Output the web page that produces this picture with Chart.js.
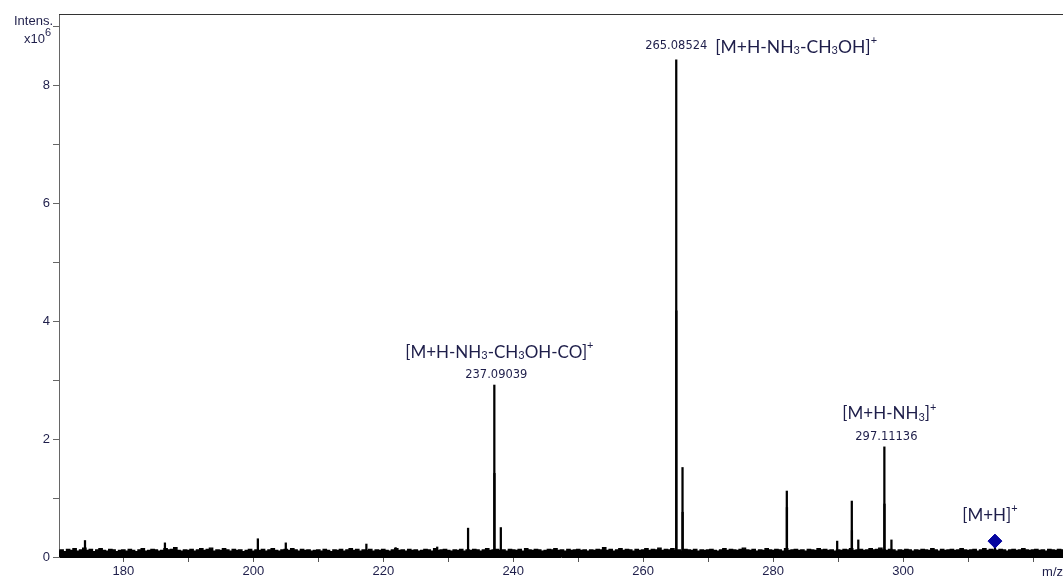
<!DOCTYPE html>
<html>
<head>
<meta charset="utf-8">
<script src="https://cdn.jsdelivr.net/npm/chart.js@4"></script>
<style>
body { margin: 0; background: #fff; }
#wrap { width: 1063px; height: 578px; position: relative; }
</style>
</head>
<body>
<div id="wrap"><canvas id="spectrum"></canvas></div>
<script>
// axis ticks
const x_ticks = [180, 190, 200, 210, 220, 230, 240, 250, 260, 270, 280, 290, 300, 310, 320];
const y_ticks = [0, 1, 2, 3, 4, 5, 6, 7, 8, 9];

// baseline noise, read every 0.5 m/z from 170 (intensity x10^6)
const noise_start = 170;
const noise_step = 0.5;
const noise_values = [
    0.10, 0.12, 0.09, 0.13, 0.11, 0.14, 0.10, 0.12, 0.15, 0.11, 0.13, 0.09, 0.12, 0.14, 0.11, 0.10, 0.13, 0.12, 0.09, 0.11,
    0.12, 0.10, 0.13, 0.11, 0.09, 0.12, 0.14, 0.10, 0.11, 0.13, 0.12, 0.10, 0.11, 0.14, 0.12, 0.13, 0.16, 0.11, 0.10, 0.12,
    0.11, 0.13, 0.10, 0.12, 0.14, 0.11, 0.13, 0.15, 0.10, 0.12, 0.11, 0.14, 0.12, 0.10, 0.13, 0.11, 0.12, 0.09, 0.11, 0.13,
    0.10, 0.12, 0.11, 0.13, 0.10, 0.12, 0.14, 0.11, 0.10, 0.12, 0.13, 0.11, 0.14, 0.12, 0.10, 0.13, 0.11, 0.12, 0.10, 0.11,
    0.12, 0.10, 0.13, 0.11, 0.09, 0.12, 0.11, 0.13, 0.10, 0.12, 0.14, 0.11, 0.13, 0.10, 0.12, 0.11, 0.13, 0.10, 0.12, 0.11,
    0.13, 0.11, 0.10, 0.12, 0.14, 0.11, 0.12, 0.10, 0.13, 0.11, 0.12, 0.10, 0.11, 0.13, 0.12, 0.10, 0.14, 0.11, 0.12, 0.13,
    0.11, 0.10, 0.12, 0.11, 0.13, 0.10, 0.12, 0.11, 0.13, 0.12, 0.10, 0.12, 0.14, 0.11, 0.12, 0.13, 0.11, 0.12, 0.10, 0.13,
    0.12, 0.11, 0.13, 0.10, 0.14, 0.12, 0.11, 0.13, 0.12, 0.10, 0.11, 0.13, 0.12, 0.14, 0.11, 0.12, 0.10, 0.13, 0.11, 0.12,
    0.13, 0.11, 0.12, 0.10, 0.12, 0.11, 0.13, 0.12, 0.16, 0.11, 0.13, 0.10, 0.12, 0.14, 0.11, 0.13, 0.12, 0.10, 0.13, 0.11,
    0.12, 0.14, 0.11, 0.13, 0.12, 0.15, 0.11, 0.13, 0.12, 0.14, 0.11, 0.12, 0.10, 0.13, 0.12, 0.11, 0.13, 0.10, 0.12, 0.11,
    0.12, 0.13, 0.11, 0.10, 0.12, 0.14, 0.11, 0.13, 0.12, 0.11, 0.13, 0.15, 0.12, 0.11, 0.13, 0.10, 0.12, 0.11, 0.14, 0.12,
    0.11, 0.13, 0.12, 0.10, 0.14, 0.11, 0.12, 0.13, 0.11, 0.12, 0.10, 0.13, 0.12, 0.11, 0.14, 0.12, 0.13, 0.11, 0.12, 0.10,
    0.12, 0.11, 0.13, 0.12, 0.14, 0.11, 0.12, 0.13, 0.11, 0.12, 0.14, 0.12, 0.13, 0.15, 0.12, 0.11, 0.13, 0.12, 0.10, 0.12,
    0.11, 0.13, 0.12, 0.10, 0.12, 0.11, 0.13, 0.12, 0.11, 0.14, 0.12, 0.10, 0.13, 0.11, 0.12, 0.13, 0.11, 0.12, 0.14, 0.12,
    0.11, 0.12, 0.13, 0.10, 0.12, 0.14, 0.11, 0.13, 0.12, 0.11, 0.13, 0.12, 0.10, 0.12, 0.13, 0.11, 0.12, 0.14, 0.12, 0.11,
    0.12, 0.13, 0.11, 0.12, 0.10, 0.13, 0.12, 0.11, 0.13, 0.12, 0.11
];

// centroid sticks (m/z, intensity x10^6)
const peak_mz = [
    174.1, 186.4, 200.7, 205.0, 217.4, 221.9, 228.3,
    233.05, 237.09, 237.11, 238.09,
    265.085, 265.10, 266.05, 266.07,
    282.10, 282.12, 289.85, 292.10, 292.12, 293.10,
    297.111, 297.13, 298.2, 314.13
];
const peak_intens = [
    0.28, 0.24, 0.31, 0.24, 0.22, 0.16, 0.17,
    0.49, 2.92, 1.42, 0.50,
    8.44, 4.18, 1.52, 0.76,
    1.12, 0.84, 0.27, 0.95, 0.45, 0.29,
    1.87, 0.90, 0.29, 0.25
];

// [M+H]+ marker
const marker_mz = [314.13];
const marker_intens = [0.27];

// annotated peaks
const label_mz = [237.09039, 265.08524, 297.11136, 314.13];
const label_intens = [2.92, 8.44, 1.87, 0.27];
const label_mass = ['237.09039', '265.08524', '297.11136', ''];
const label_ion = ['[M+H-NH_3-CH_3OH-CO]^+', '[M+H-NH_3-CH_3OH]^+', '[M+H-NH_3]^+', '[M+H]^+'];

const text_color = '#1e1e4a';

// split "NH_3 ... ]^+" into normal / sub / sup pieces
function rich_parts(str) {
    let parts = [];
    let buf = '';
    for (let i = 0; i < str.length; i++) {
        let c = str[i];
        if ((c == '_' || c == '^') && i + 1 < str.length) {
            if (buf) parts.push([buf, 'n']);
            buf = '';
            parts.push([str[i + 1], c == '_' ? 'sub' : 'sup']);
            i++;
        } else {
            buf += c;
        }
    }
    if (buf) parts.push([buf, 'n']);
    return parts;
}

function draw_rich(ctx, str, x, y, size, align) {
    let parts = rich_parts(str);
    let big = size + 'px Lato';
    let small = Math.round(size * 0.62) + 'px Lato';
    let widths = parts.map(p => {
        ctx.font = p[1] == 'n' ? big : small;
        return ctx.measureText(p[0]).width;
    });
    let total = widths.reduce((a, b) => a + b, 0);
    let cx = align == 'left' ? x : x - total / 2;
    ctx.textAlign = 'left';
    ctx.textBaseline = 'middle';
    parts.forEach((p, i) => {
        ctx.font = p[1] == 'n' ? big : small;
        let dy = p[1] == 'sub' ? size * 0.22 : (p[1] == 'sup' ? -size * 0.38 : 0);
        ctx.fillText(p[0], cx, y + dy);
        cx += widths[i];
    });
}

const annotate = {
    id: 'annotate',
    afterDraw(chart) {
        const ctx = chart.ctx;
        const area = chart.chartArea;
        const sx = chart.scales.x;
        const sy = chart.scales.y;
        ctx.save();

        // frame top line
        ctx.strokeStyle = '#333';
        ctx.lineWidth = 1;
        ctx.beginPath();
        ctx.moveTo(area.left, area.top + 0.5);
        ctx.lineTo(area.right, area.top + 0.5);
        ctx.stroke();

        ctx.fillStyle = text_color;

        // axis captions
        ctx.font = '13px "Liberation Sans"';
        ctx.textAlign = 'right';
        ctx.textBaseline = 'middle';
        ctx.fillText('Intens.', area.left - 6, 21);
        ctx.fillText('x10', area.left - 14, 39);
        ctx.font = '11px "Liberation Sans"';
        ctx.textAlign = 'left';
        ctx.fillText('6', area.left - 14, 33);
        ctx.font = '13px "Liberation Sans"';
        ctx.fillText('m/z', sx.getPixelForValue(320) + 9, 572);

        // peak labels
        label_mz.forEach((mz, i) => {
            let px = sx.getPixelForValue(mz);
            let py = sy.getPixelForValue(label_intens[i]);
            ctx.font = '11.5px "DejaVu Sans"';
            ctx.textAlign = 'center';
            ctx.textBaseline = 'middle';
            if (i == 1) {
                ctx.fillText(label_mass[i], px, py - 14);
                draw_rich(ctx, label_ion[i], px + 39, py - 13, 17.5, 'left');
            } else if (i == 3) {
                draw_rich(ctx, label_ion[i], px - 5, py - 26, 17, 'center');
            } else {
                ctx.fillText(label_mass[i], px + 2, py - 10);
                draw_rich(ctx, label_ion[i], px + 5, py - 33, 17, 'center');
            }
        });
        ctx.restore();
    }
};

const ctx = document.getElementById('spectrum').getContext('2d');
const spectrum_chart = new Chart(ctx, {
    type: 'bar',
    data: {
        datasets: [{
            type: 'scatter',
            label: '[M+H]+',
            data: marker_mz.map((mz, i) => ({ x: mz, y: marker_intens[i] })),
            pointStyle: 'rectRot',
            pointRadius: 7,
            backgroundColor: '#0505a0',
            borderColor: '#0505a0',
            order: 0
        }, {
            type: 'bar',
            label: 'peaks',
            data: peak_mz.map((mz, i) => ({ x: mz, y: peak_intens[i] })),
            backgroundColor: '#000',
            barThickness: 1.6,
            grouped: false,
            order: 1
        }, {
            type: 'line',
            label: 'noise',
            data: noise_values.map((v, i) => ({ x: noise_start + i * noise_step, y: v })),
            stepped: 'middle',
            borderColor: '#000',
            backgroundColor: '#000',
            borderWidth: 1.4,
            pointRadius: 0,
            fill: 'origin',
            order: 2
        }]
    },
    options: {
        responsive: true,
        maintainAspectRatio: false,
        animation: false,
        layout: { autoPadding: false, padding: { top: 14, left: 0, right: 0, bottom: 0 } },
        plugins: {
            legend: { display: false },
            tooltip: { enabled: false }
        },
        scales: {
            x: {
                type: 'linear',
                min: 170.1,
                max: 324.6,
                offset: false,
                afterBuildTicks: axis => { axis.ticks = x_ticks.map(v => ({ value: v })); },
                afterFit: axis => {
                    axis.height = 21;
                    axis.paddingLeft = 0;
                    axis.paddingRight = 0;
                },
                grid: { drawOnChartArea: false, offset: false, tickLength: 5, color: '#555' },
                border: { color: '#000', width: 1 },
                ticks: {
                    autoSkip: false,
                    maxRotation: 0,
                    padding: 2,
                    color: text_color,
                    font: { family: 'Liberation Sans', size: 13 },
                    callback: v => (v % 20 == 0 && v < 320) ? String(v) : ''
                }
            },
            y: {
                min: 0,
                max: 9.22,
                afterBuildTicks: axis => { axis.ticks = y_ticks.map(v => ({ value: v })); },
                afterFit: axis => { axis.width = 59; },
                grid: { drawOnChartArea: false, tickLength: 6, color: '#666' },
                border: { color: '#666', width: 1 },
                ticks: {
                    padding: 3,
                    color: text_color,
                    font: { family: 'Liberation Sans', size: 13 },
                    callback: v => (v % 2 == 0) ? String(v) : ''
                }
            }
        }
    },
    plugins: [annotate]
});
</script>
</body>
</html>
